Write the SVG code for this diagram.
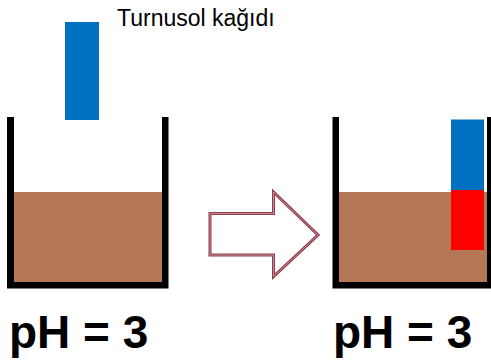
<svg xmlns="http://www.w3.org/2000/svg" width="491" height="363" viewBox="0 0 491 363">
<style>
.wall{fill:#000}
.liquid{fill:#B57856}
.blue{fill:#0070C0}
.red{fill:#FF0000}
.ph{font-family:"Liberation Sans",Arial,sans-serif;font-weight:bold;font-size:46px;fill:#000}
.label{font-family:"Liberation Sans",Arial,sans-serif;font-size:23px;fill:#000}
</style>
<rect width="491" height="363" fill="#fff"/>
<g id="left-beaker">
<rect class="liquid" x="14" y="192" width="148" height="90"/>
<path class="wall" d="M7 117H14V282H162V117H168.5V288.5H7Z"/>
</g>
<g id="litmus-paper-left">
<rect class="blue" x="65" y="22" width="34" height="98"/>
</g>
<g id="label-turnusol">
<text class="label" x="117" y="26">Turnusol kağıdı</text>
</g>
<g id="right-beaker">
<rect class="liquid" x="339" y="192" width="148" height="90"/>
<path class="wall" d="M332.5 117H339V282H487V117H494V288.5H332.5Z"/>
</g>
<g id="litmus-paper-right">
<rect class="blue" x="451" y="119.5" width="33" height="71"/>
<rect class="red" x="451" y="190" width="33" height="60"/>
</g>
<g id="connectors">
<path d="M210 213.5H273.5V192L318 235L273.5 276.5V255H210Z" fill="#fff" stroke="#8E3A4A" stroke-width="3" stroke-linejoin="miter"/>
<path d="M210 213.5H273.5V192L318 235L273.5 276.5V255H210Z" fill="none" stroke="#D8A0AA" stroke-width="0.8"/>
</g>
<g id="ph-left"><text class="ph" x="9" y="348">pH = 3</text></g>
<g id="ph-right"><text class="ph" x="333" y="348">pH = 3</text></g>
</svg>
